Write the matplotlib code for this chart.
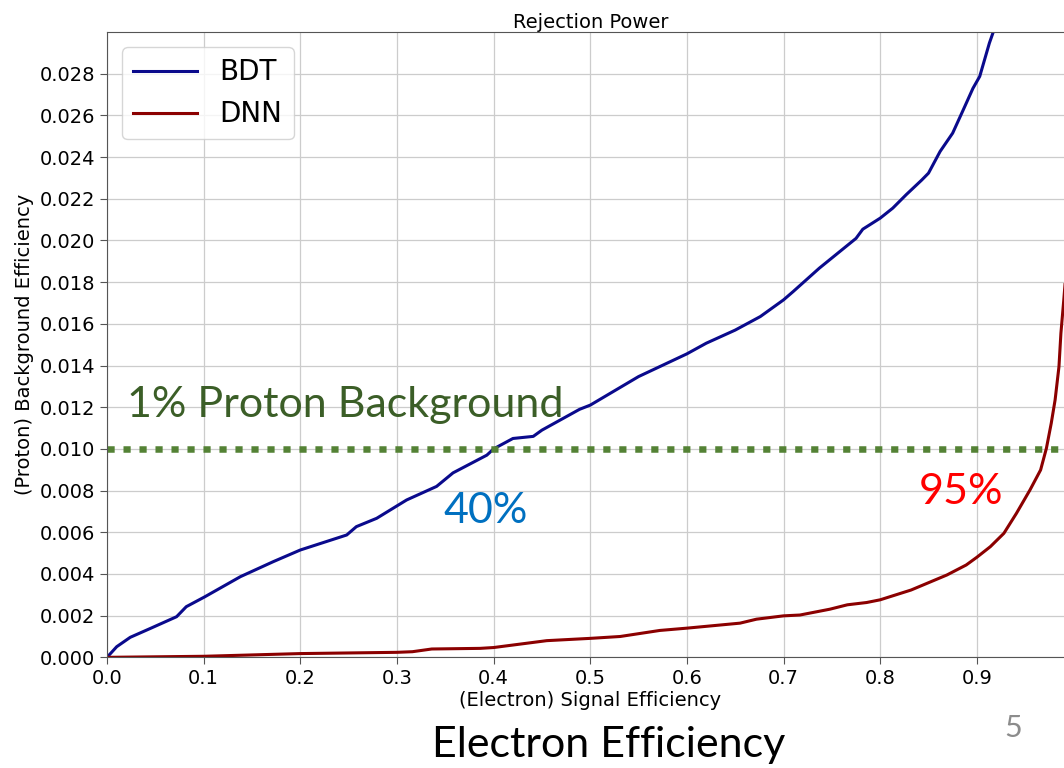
import numpy as np
import matplotlib.pyplot as plt
from matplotlib.ticker import FormatStrFormatter

# ROC points: electron (signal) efficiency vs proton (background) efficiency
bdt_sig = [0.0, 0.01, 0.024, 0.045, 0.072, 0.082, 0.101, 0.138, 0.172, 0.20,
           0.248, 0.258, 0.279, 0.31, 0.341, 0.358, 0.393, 0.40, 0.42, 0.441,
           0.45, 0.489, 0.50, 0.55, 0.60, 0.62, 0.65, 0.676, 0.70, 0.71,
           0.737, 0.775, 0.782, 0.80, 0.813, 0.827, 0.843, 0.85, 0.862, 0.875,
           0.886, 0.896, 0.903, 0.908, 0.913, 0.917, 0.922]
bdt_bkg = [0.0, 0.00051, 0.00096, 0.00139, 0.00195, 0.00243, 0.0029, 0.00387, 0.00459, 0.00515,
           0.00587, 0.00627, 0.00667, 0.00755, 0.0082, 0.00885, 0.0097, 0.0100, 0.0105, 0.0106,
           0.0109, 0.0119, 0.0121, 0.01347, 0.01456, 0.01507, 0.0157, 0.01635, 0.01715, 0.01755,
           0.01867, 0.0201, 0.02054, 0.02107, 0.02155, 0.0222, 0.0229, 0.02323, 0.02427, 0.02515,
           0.02627, 0.0273, 0.02787, 0.02867, 0.02947, 0.0300, 0.0310]

dnn_sig = [0.0, 0.10, 0.20, 0.30, 0.316, 0.336, 0.386, 0.40, 0.455, 0.50,
           0.531, 0.572, 0.60, 0.655, 0.672, 0.70, 0.717, 0.748, 0.766, 0.786,
           0.80, 0.832, 0.85, 0.869, 0.889, 0.90, 0.914, 0.928, 0.941, 0.955,
           0.966, 0.972, 0.977, 0.981, 0.985, 0.987, 0.990, 0.994, 0.997]
dnn_bkg = [0.0, 0.00005, 0.00018, 0.00024, 0.00027, 0.0004, 0.00043, 0.00047, 0.0008, 0.00091,
           0.0010, 0.00129, 0.0014, 0.00164, 0.00183, 0.00199, 0.00203, 0.00231, 0.00252, 0.00263,
           0.00276, 0.00323, 0.00358, 0.00395, 0.00443, 0.0048, 0.00531, 0.00595, 0.00691, 0.00803,
           0.00899, 0.01003, 0.01123, 0.01235, 0.01395, 0.01555, 0.01716, 0.0195, 0.026]

threshold = 0.01
x_ticks = [0.0, 0.1, 0.2, 0.3, 0.4, 0.5, 0.6, 0.7, 0.8, 0.9]
y_ticks = [0.000, 0.002, 0.004, 0.006, 0.008, 0.010, 0.012, 0.014,
           0.016, 0.018, 0.020, 0.022, 0.024, 0.026, 0.028]

fig = plt.figure(figsize=(10.64, 7.68), dpi=100)
ax = fig.add_axes([0.1006, 0.1441, 0.9083, 0.8142])

ax.plot(bdt_sig, bdt_bkg, color='#0a0a8c', lw=2.2, label='BDT')
ax.plot(dnn_sig, dnn_bkg, color='#8b0000', lw=2.2, label='DNN')
ax.axhline(threshold, color='#548235', lw=4.7, linestyle=(0, (1.1, 1.35)),
           dash_capstyle='butt')

ax.set_xlim(0, 1)
ax.set_ylim(0, 0.030)
ax.set_xticks(x_ticks)
ax.set_yticks(y_ticks)
ax.xaxis.set_major_formatter(FormatStrFormatter('%.1f'))
ax.yaxis.set_major_formatter(FormatStrFormatter('%.3f'))
ax.tick_params(labelsize=14, length=5, color='#555555')
ax.grid(True, color='#cccccc', lw=0.9)
for s in ax.spines.values():
    s.set_color('#555555')

ax.set_title('Rejection Power', fontsize=14, pad=3)
ax.set_xlabel('(Electron) Signal Efficiency', fontsize=14, labelpad=2)
ax.set_ylabel('(Proton) Background Efficiency', fontsize=14, labelpad=4)
ax.legend(loc='upper left', fontsize=20, handlelength=2.3, borderaxespad=0.55)

# slide annotations
fig.text(0.119, 0.4574, '1% Proton Background', family='Lato', fontsize=31,
         color='#3b5e27', va='baseline')
fig.text(0.4164, 0.319, '40%', family='Lato', fontsize=31, color='#0070c0',
         va='baseline')
fig.text(0.8637, 0.3438, '95%', family='Lato', fontsize=31, color='#ff0000',
         va='baseline')
fig.text(0.406, (768 - 757) / 768, 'Electron Efficiency', family='Lato',
         fontsize=31, color='black', va='baseline')
fig.text(0.944, (768 - 737) / 768, '5', family='Lato', fontsize=22,
         color='#8c8c8c', va='baseline')

fig.savefig('out.png', dpi=100)
